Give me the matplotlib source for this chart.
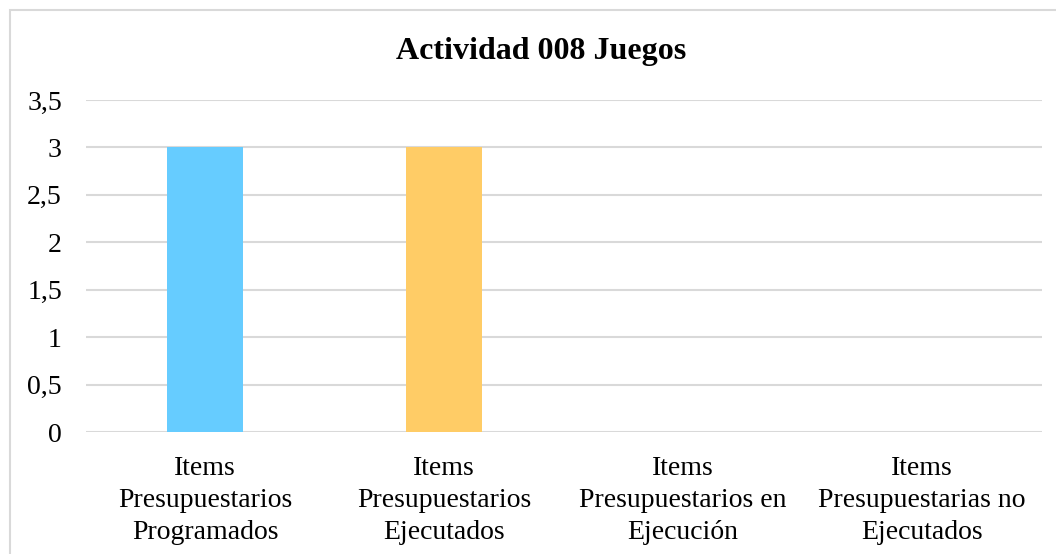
import numpy as np
import matplotlib
matplotlib.use("Agg")
import matplotlib.pyplot as plt
from matplotlib.patches import Rectangle
from matplotlib.ticker import FuncFormatter

categories = ["Items\nPresupuestarios\nProgramados",
              "Items\nPresupuestarios\nEjecutados",
              "Items\nPresupuestarios en\nEjecución",
              "Items\nPresupuestarias no\nEjecutados"]
values = [3, 3, 0, 0]
bar_colors = ["#66CCFF", "#FFCC66", "#A5A5A5", "#FFC000"]
yticks = [0, 0.5, 1, 1.5, 2, 2.5, 3, 3.5]

plt.rcParams["font.family"] = ["Liberation Serif", "DejaVu Serif"]

fig = plt.figure(figsize=(10.56, 5.54), dpi=100)
# outer chart-area border (right and bottom edges fall outside the image)
fig.patches.append(Rectangle((10 / 1056, -0.1), 1.1, 1.1 - 10 / 554,
                             transform=fig.transFigure, fill=False,
                             edgecolor="#D9D9D9", lw=1.5))

ax = fig.add_axes([85.5 / 1056, 122 / 554, 956 / 1056, 332 / 554])
x = np.arange(len(categories))
ax.bar(x, values, width=0.314, color=bar_colors, zorder=3)

ax.set_xlim(-0.5, len(categories) - 0.5)
ax.set_ylim(0, 3.5)
ax.set_yticks(yticks)
ax.yaxis.set_major_formatter(FuncFormatter(lambda v, p: f"{v:g}".replace(".", ",")))
ax.set_xticks(x)
ax.set_xticklabels(categories, fontsize=20, linespacing=1.38)
ax.tick_params(axis="y", length=0, pad=17, labelsize=20)
ax.tick_params(axis="x", length=0, pad=17)
ax.grid(axis="y", color="#D9D9D9", lw=1.5, zorder=0)
for s in ax.spines.values():
    s.set_visible(False)

fig.text(541 / 1056, 1 - 52 / 554, "Actividad 008 Juegos", ha="center", va="center",
         fontsize=23, fontweight="bold")

fig.savefig("out.png", dpi=100)
